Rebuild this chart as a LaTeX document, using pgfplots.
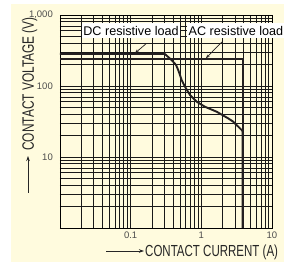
\documentclass[border=0pt]{standalone}
\usepackage{pgfplots}
\pgfplotsset{compat=1.18}
\usepackage{fontspec}
\setmainfont{Liberation Sans}
\newfontfamily\condfont{Liberation Sans}[FakeStretch=0.72]
\usetikzlibrary{arrows.meta}
\definecolor{cream}{RGB}{255,251,222}
\definecolor{curve}{RGB}{35,31,32}
\begin{document}
\begin{tikzpicture}
\useasboundingbox (0pt,0pt) rectangle (284pt,262pt);
\clip (0pt,0pt) rectangle (284pt,262pt);
\fill[white] (0pt,0pt) rectangle (284pt,262pt);
\fill[cream] (11pt,0pt) rectangle (284pt,258pt);
\begin{axis}[
  at={(60pt,34pt)}, anchor=south west,
  scale only axis, width=212pt, height=213pt,
  xmode=log, ymode=log,
  xmin=0.01, xmax=10, ymin=1, ymax=1000,
  xtick={0.01,0.1,1,10}, xticklabels={,0.1,1,10},
  ytick={1,10,100,1000}, yticklabels={,10,100,{1,000}},
  minor xtick={0.02,0.03,0.04,0.05,0.06,0.07,0.08,0.09,0.2,0.3,0.4,0.5,0.6,0.7,0.8,0.9,2,3,4,5,6,7,8,9},
  minor ytick={2,3,4,5,6,7,8,9,20,30,40,50,60,70,80,90,200,300,400,500,600,700,800,900},
  grid=both,
  major grid style={black!90, line width=0.8pt},
  minor grid style={black!90, line width=0.8pt},
  major tick length=0pt, minor tick length=0pt,
  axis line style={black, line width=0.9pt},
  tick label style={font=\fontsize{9.5}{10}\selectfont, text=black!70},
  xticklabel style={inner sep=0pt, anchor=north, yshift=-4pt},
  yticklabel style={inner sep=0pt, anchor=east, xshift=-7pt},
  clip=false,
]
\addplot[curve, line width=1.9pt, line join=round] coordinates {
 (0.01,282) (0.305,282) (0.38,232) (0.438,198) (0.471,168) (0.526,122)
 (0.586,98) (0.69,75) (0.86,60) (1.125,51) (1.65,43.4) (2.4,35)
 (2.83,31.4) (3.72,24) (3.85,23) (3.85,1)
};
\addplot[curve, line width=1.9pt, line join=miter] coordinates {
 (0.01,240) (3.85,240) (3.85,1)
};
\draw[curve, line width=0.7pt, -{Stealth[length=4pt,width=3pt]}] (axis cs:0.164,391) -- (axis cs:0.115,290);
\draw[curve, line width=0.7pt, -{Stealth[length=4pt,width=3pt]}] (axis cs:1.95,417) -- (axis cs:1.16,246);
\end{axis}
\node[fill=white, inner xsep=1.5pt, inner ysep=0pt, minimum height=15pt, font=\fontsize{12.6}{13}\selectfont] at (131pt,231pt) {DC resistive load};
\node[fill=white, inner xsep=1.5pt, inner ysep=0pt, minimum height=15pt, font=\fontsize{12.6}{13}\selectfont] at (236pt,231pt) {AC resistive load};
\node[rotate=90, inner sep=0pt, font=\condfont\fontsize{16.5}{16}\selectfont, text=black!85] at (29.5pt,178pt) {CONTACT VOLTAGE (V)};
\draw[black!85, line width=0.8pt, -{Stealth[length=5pt,width=3.5pt]}] (28pt,69pt) -- (28pt,106pt);
\node[anchor=base west, inner sep=0pt, font=\condfont\fontsize{16}{16}\selectfont, text=black!85] at (145pt,5.3pt) {CONTACT CURRENT (A)};
\draw[black!85, line width=0.8pt, -{Stealth[length=5pt,width=3.5pt]}] (106pt,11pt) -- (144pt,11pt);
\end{tikzpicture}
\end{document}
